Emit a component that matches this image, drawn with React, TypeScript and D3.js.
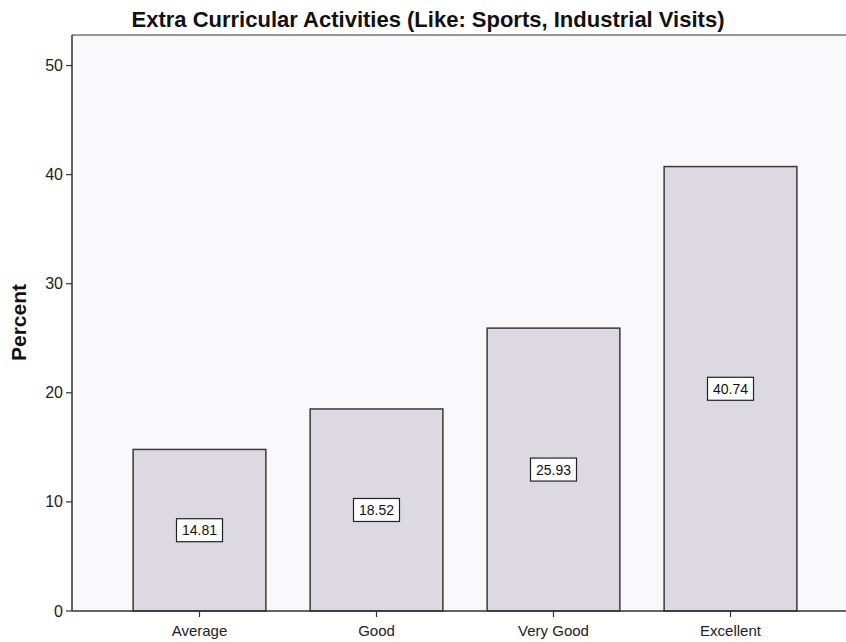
import React from "react";
import * as d3 from "d3";

const categories = ["Average", "Good", "Very Good", "Excellent"];
const percents = [14.81, 18.52, 25.93, 40.74];
const yTicks = [0, 10, 20, 30, 40, 50];
const title = "Extra Curricular Activities (Like: Sports, Industrial Visits)";
const yTitle = "Percent";

const W = 846;
const H = 642;
const left = 72;
const top = 35;
const bottom = 611;
const font = "Arial, 'Liberation Sans', Helvetica, sans-serif";

export default function App() {
  const x = d3
    .scaleBand<string>()
    .domain(categories)
    .range([111, 819])
    .paddingInner(0.25)
    .paddingOuter(0.125);
  const y = d3.scaleLinear().domain([0, 52.8]).range([bottom, top]);

  return (
    <svg
      width={W}
      height={H}
      style={{ position: "absolute", left: 0, top: 0, background: "#fff" }}
      fontFamily={font}
    >
      <rect x={left} y={top} width={W - left} height={bottom - top} fill="#f9f8fb" />
      <line x1={left} x2={W} y1={top} y2={top} stroke="#777" strokeWidth={1.5} />
      {categories.map((c, i) => {
        const x0 = x(c)!;
        const v = percents[i];
        const cy = y(v / 2);
        const cx = x0 + x.bandwidth() / 2;
        return (
          <g key={c}>
            <rect
              x={x0}
              y={y(v)}
              width={x.bandwidth()}
              height={y(0) - y(v)}
              fill="#dcd9e2"
              stroke="#3a3a3a"
              strokeWidth={1.5}
            />
            <rect x={cx - 23} y={cy - 11.5} width={46} height={23} fill="#fff" stroke="#222" strokeWidth={1.2} />
            <text x={cx} y={cy + 5} textAnchor="middle" fontSize={14} fill="#111">
              {v.toFixed(2)}
            </text>
          </g>
        );
      })}
      {/* axes */}
      <line x1={left} x2={left} y1={top} y2={bottom} stroke="#333" strokeWidth={1.5} />
      <line x1={left} x2={W} y1={bottom} y2={bottom} stroke="#333" strokeWidth={1.5} />
      {yTicks.map((t) => (
        <g key={t}>
          <line x1={left - 6} x2={left} y1={y(t)} y2={y(t)} stroke="#333" strokeWidth={1.2} />
          <text x={left - 9} y={y(t) + 5.5} textAnchor="end" fontSize={16} fill="#222">
            {t}
          </text>
        </g>
      ))}
      {categories.map((c) => {
        const cx = x(c)! + x.bandwidth() / 2;
        return (
          <g key={c}>
            <line x1={cx} x2={cx} y1={bottom} y2={bottom + 6} stroke="#333" strokeWidth={1.2} />
            <text x={cx} y={bottom + 25} textAnchor="middle" fontSize={15} fill="#222">
              {c}
            </text>
          </g>
        );
      })}
      <text
        transform={`translate(26, 322.5) rotate(-90)`}
        textAnchor="middle"
        fontSize={21}
        fontWeight="bold"
        fill="#111"
      >
        {yTitle}
      </text>
      <text x={428} y={27} textAnchor="middle" fontSize={22} fontWeight="bold" fill="#111">
        {title}
      </text>
    </svg>
  );
}
